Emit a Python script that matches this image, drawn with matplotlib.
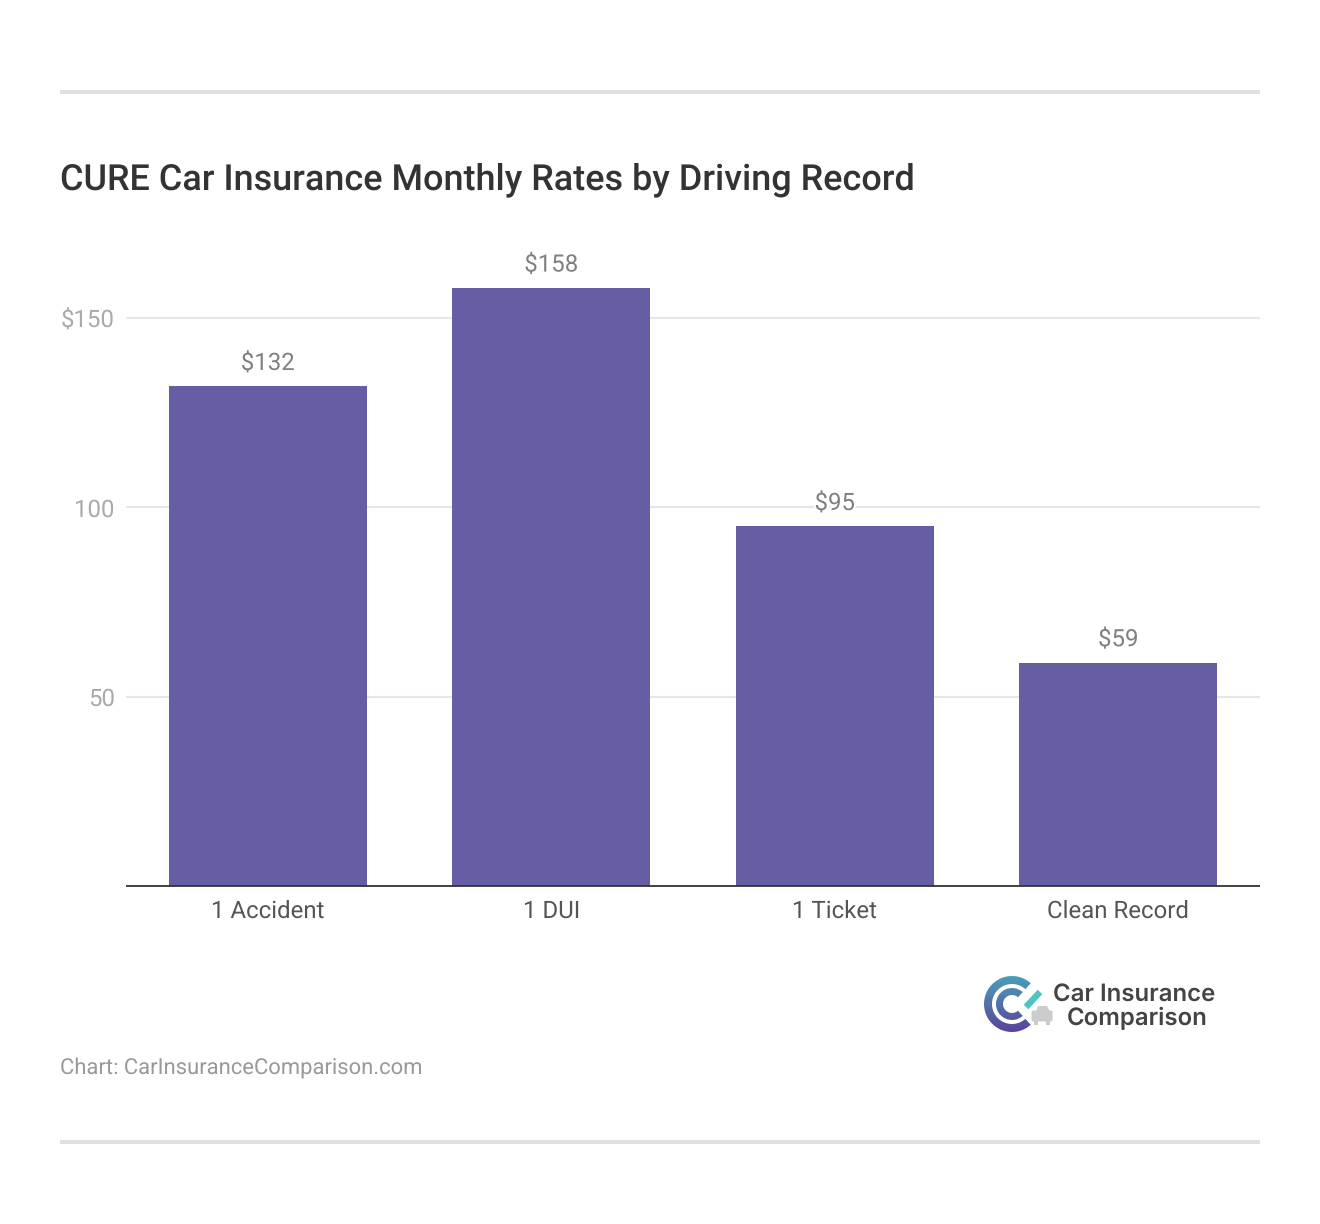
import numpy as np
import matplotlib
matplotlib.use("Agg")
import matplotlib.pyplot as plt
from matplotlib.patches import Wedge, Rectangle, FancyBboxPatch, Polygon
from matplotlib.path import Path
from matplotlib.colors import LinearSegmentedColormap
import matplotlib.patheffects as pe

title = "CURE Car Insurance Monthly Rates by Driving Record"
categories = ["1 Accident", "1 DUI", "1 Ticket", "Clean Record"]
rates = [132, 158, 95, 59]
value_labels = ["$132", "$158", "$95", "$59"]
y_ticks = [50, 100, 150]
y_tick_labels = ["50", "100", "$150"]
source = "Chart: CarInsuranceComparison.com"

W, H = 1320, 1224
PX = 0.72
plt.rcParams["font.family"] = ["Roboto", "DejaVu Sans"]
plt.rcParams["text.hinting"] = "no_hinting"
plt.rcParams["text.hinting_factor"] = 1
fig = plt.figure(figsize=(W / 100, H / 100), dpi=100, facecolor="white")

L, R, T, B = 126, 1260, 250, 886
ax = fig.add_axes([L / W, 1 - B / H, (R - L) / W, (B - T) / H])
ax.set_xlim(-0.5, 3.5)
ax.set_ylim(0, (B - T) / 3.785)
ax.set_yticks(y_ticks)
ax.set_yticklabels(y_tick_labels)
ax.set_xticks(range(4))
ax.set_xticklabels(categories)
ax.grid(axis="y", color="#e6e6e6", lw=1.5)
ax.set_axisbelow(True)
for s in ["top", "left", "right"]:
    ax.spines[s].set_visible(False)
ax.spines["bottom"].set_color("#333333")
ax.spines["bottom"].set_linewidth(1.3)
ax.spines["bottom"].set_capstyle("butt")
ax.tick_params(axis="x", length=0, pad=9.7, labelsize=24 * PX, labelcolor="#555555")
ax.tick_params(axis="y", length=0, pad=8, labelsize=24 * PX, labelcolor="#aaaaaa")
ax.set_facecolor("none")

ax.bar(range(4), rates, width=0.7, color="#655ea5", zorder=2)
for i, (v, lab) in enumerate(zip(rates, value_labels)):
    ax.annotate(lab, (i, v), xytext=(0, 8.3), textcoords="offset points",
                ha="center", va="bottom", fontsize=24 * PX, color="#808080",
                path_effects=[pe.withStroke(linewidth=3, foreground="white")], zorder=3)

ov = fig.add_axes([0, 0, 1, 1], facecolor="none")
ov.axis("off")
ov.add_patch(Rectangle((60, 90), 1200, 4, color="#e0e0e0", lw=0))
ov.add_patch(Rectangle((60, 1140), 1200, 4, color="#e0e0e0", lw=0))
ov.text(60, 180, title, fontsize=35.92 * PX, fontweight="medium", color="#333333", va="center", ha="left")
ov.text(60, 1067.5, source, fontsize=22 * PX, color="#999999", va="center", ha="left")

# logo: two C shapes filled with a vertical gradient
cx, cy = 1012, 1004
cmap = LinearSegmentedColormap.from_list("logo", ["#4aa0b8", "#5a429b"])
grad = ov.imshow(np.linspace(0, 1, 64).reshape(-1, 1), cmap=cmap, aspect="auto",
                 extent=(cx - 29, cx + 29, cy + 29, cy - 29), origin="upper", zorder=1)
outer = Wedge((cx, cy), 28, 48, 312, width=8).get_path()
inner = Wedge((cx, cy), 16, 48, 312, width=7).get_path()
grad.set_clip_path(Path.make_compound_path(outer, inner), ov.transData)
ov.set_xlim(0, W)
ov.set_ylim(H, 0)

ov.plot([1026, 1040], [1007, 992], color="#4fc4c0", lw=4.6, solid_capstyle="butt", zorder=2)
ov.add_patch(FancyBboxPatch((1033, 1012), 18, 8, boxstyle="round,pad=1.5", color="#cccccc", lw=0, zorder=2))
ov.add_patch(Polygon([[1036, 1012], [1038, 1006], [1047, 1006], [1050, 1012]], color="#cccccc", lw=0, zorder=2))
ov.add_patch(Rectangle((1034, 1020), 4, 5, color="#cccccc", lw=0, zorder=2))
ov.add_patch(Rectangle((1046, 1020), 4, 5, color="#cccccc", lw=0, zorder=2))
ov.text(1134, 994, "Car Insurance", fontsize=24 * PX, fontweight="semibold", color="#444444", ha="center", va="center", family=["Inter", "DejaVu Sans"])
ov.text(1137, 1018, "Comparison", fontsize=24 * PX, fontweight="semibold", color="#444444", ha="center", va="center", family=["Inter", "DejaVu Sans"])

fig.savefig("out.png", dpi=100, facecolor="white")
